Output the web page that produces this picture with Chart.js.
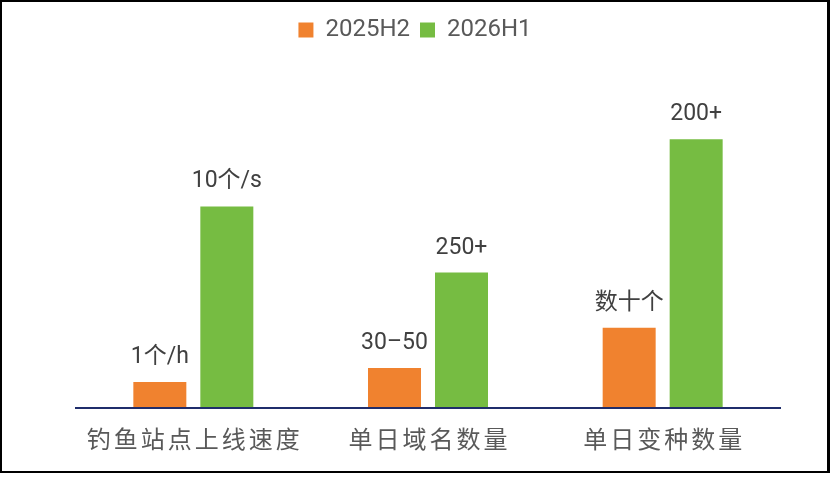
<!DOCTYPE html>
<html>
<head>
<meta charset="utf-8">
<script src="https://cdn.jsdelivr.net/npm/chart.js@4"></script>
<style>
  html, body { margin: 0; padding: 0; background: #fff; }
  #wrap { position: absolute; left: 0; top: 0; width: 830px; height: 485px; }
  #frame { position: absolute; left: 0; top: 0; width: 830px; height: 473px;
           box-sizing: border-box; border: 2px solid #000; border-right-width: 3px;
           pointer-events: none; }
</style>
</head>
<body>
<div id="wrap"><canvas id="chart"></canvas></div>
<div id="frame"></div>
<script>
// categories and series (bar heights are relative, tallest bar = 100)
const categories = ['钓鱼站点上线速度', '单日域名数量', '单日变种数量'];
const seriesNames = ['2025H2', '2026H1'];
const values2025 = [9.7, 14.9, 29.9];
const values2026 = [75, 50.4, 100];
const labels2025 = ['1个/h', '30–50', '数十个'];
const labels2026 = ['10个/s', '250+', '200+'];

const FONT = 'Roboto, "Noto Sans CJK SC", sans-serif';

// value labels above each bar
const barLabels = {
    id: 'barLabels',
    afterDatasetsDraw(chart) {
        const ctx = chart.ctx;
        const texts = [labels2025, labels2026];
        ctx.save();
        ctx.font = '23px ' + FONT;
        ctx.fillStyle = '#404040';
        ctx.textAlign = 'center';
        ctx.textBaseline = 'alphabetic';
        chart.data.datasets.forEach((ds, di) => {
            chart.getDatasetMeta(di).data.forEach((bar, i) => {
                ctx.fillText(texts[di][i], bar.x, bar.y - 19);
            });
        });
        ctx.restore();
    }
};

// category labels with letter spacing
const catLabels = {
    id: 'catLabels',
    afterDraw(chart) {
        const ctx = chart.ctx;
        const xs = chart.scales.x;
        ctx.save();
        ctx.font = '24px ' + FONT;
        ctx.fillStyle = '#595959';
        ctx.textBaseline = 'middle';
        ctx.textAlign = 'left';
        ctx.letterSpacing = '3px';
        categories.forEach((c, i) => {
            const w = ctx.measureText(c).width - 3;
            ctx.fillText(c, xs.getPixelForValue(i) - w / 2, 442);
        });
        ctx.restore();
    }
};

new Chart(document.getElementById('chart'), {
    type: 'bar',
    data: {
        labels: categories,
        datasets: [{
            label: seriesNames[0],
            data: values2025,
            backgroundColor: '#F0822F'
        }, {
            label: seriesNames[1],
            data: values2026,
            backgroundColor: '#76BC42'
        }]
    },
    options: {
        responsive: true,
        maintainAspectRatio: false,
        animation: false,
        categoryPercentage: 0.571,
        barPercentage: 0.791,
        layout: { padding: { top: 8, bottom: 69 } },
        scales: {
            x: {
                grid: { display: false },
                border: { display: true, color: '#1F2D6B', width: 2, z: 1 },
                ticks: { display: false }
            },
            y: {
                min: 0,
                max: 132.5,
                grid: { display: false },
                border: { display: false },
                ticks: { display: false },
                afterFit: s => { s.width = 76; }
            },
            y2: {
                position: 'right',
                grid: { display: false },
                border: { display: false },
                ticks: { display: false },
                afterFit: s => { s.width = 50; }
            }
        },
        plugins: {
            legend: {
                position: 'top',
                labels: {
                    font: { family: FONT, size: 24 },
                    color: '#595959',
                    boxWidth: 15,
                    boxHeight: 15,
                    padding: 10
                }
            },
            tooltip: { enabled: false }
        }
    },
    plugins: [barLabels, catLabels]
});
</script>
</body>
</html>
